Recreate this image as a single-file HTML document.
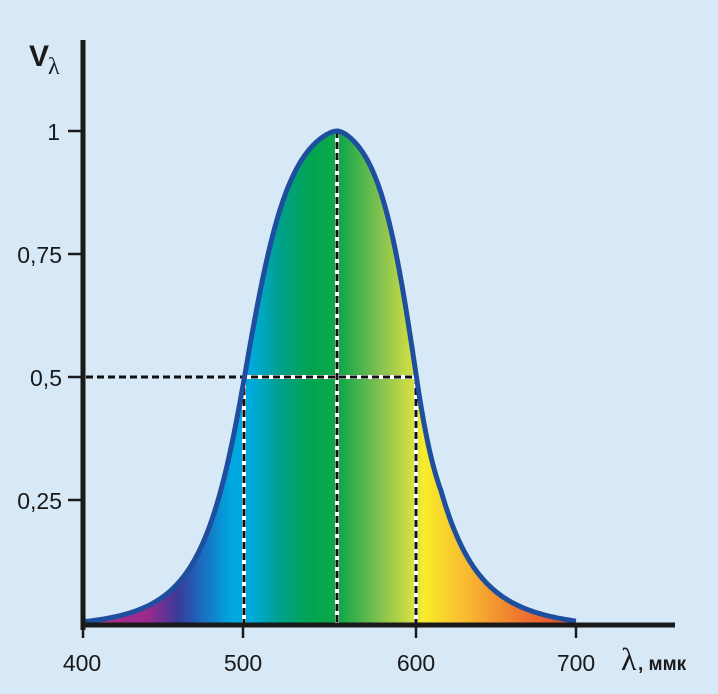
<!DOCTYPE html>
<html><head><meta charset="utf-8"><style>
html,body{margin:0;padding:0;background:#d7e8f7;}
svg{display:block}
text{font-family:"Liberation Sans",sans-serif;fill:#1a1a1a}
</style></head><body>
<svg id="s" width="718" height="694" viewBox="0 0 718 694">
<defs>
<linearGradient id="g" x1="84" x2="576" y1="0" y2="0" gradientUnits="userSpaceOnUse">
<stop offset="0" stop-color="#b0308a"/>
<stop offset="0.13" stop-color="#9a2a8e"/>
<stop offset="0.19" stop-color="#3a3a9a"/>
<stop offset="0.24" stop-color="#1a6cc0"/>
<stop offset="0.30" stop-color="#00a8e0"/>
<stop offset="0.34" stop-color="#00aadc"/>
<stop offset="0.40" stop-color="#00a08a"/>
<stop offset="0.46" stop-color="#00a550"/>
<stop offset="0.52" stop-color="#10a848"/>
<stop offset="0.60" stop-color="#80c050"/>
<stop offset="0.67" stop-color="#d8e040"/>
<stop offset="0.69" stop-color="#f8ec2a"/>
<stop offset="0.78" stop-color="#f8b830"/>
<stop offset="0.88" stop-color="#f07a30"/>
<stop offset="0.95" stop-color="#e85a30"/>
<stop offset="1" stop-color="#e85a30"/>
</linearGradient>
</defs>
<path id="fill" fill="url(#g)" stroke="none"/>
<g stroke-width="4" stroke="#fff">
<line x1="244" y1="377" x2="244" y2="623"/>
<line x1="337" y1="131" x2="337" y2="623"/>
<line x1="416" y1="377" x2="416" y2="623"/>
<line x1="244" y1="377" x2="416" y2="377"/>
</g>
<g stroke-width="3" stroke="#111" stroke-dasharray="7,4">
<line x1="244" y1="377" x2="244" y2="623"/>
<line x1="337" y1="131" x2="337" y2="623"/>
<line x1="416" y1="377" x2="416" y2="623"/>
<line x1="86" y1="377" x2="416" y2="377"/>
</g>
<path id="curve" fill="none" stroke="#1d4f9e" stroke-width="5"/>
<g stroke="#1a1a1a">
<line x1="83" y1="40" x2="83" y2="630" stroke-width="5"/>
<line x1="81" y1="625" x2="675" y2="625" stroke-width="5"/>
<line x1="68" y1="131" x2="83" y2="131" stroke-width="2.5"/>
<line x1="68" y1="254" x2="83" y2="254" stroke-width="2.5"/>
<line x1="68" y1="377" x2="83" y2="377" stroke-width="2.5"/>
<line x1="68" y1="500" x2="83" y2="500" stroke-width="2.5"/>
<line x1="243" y1="625" x2="243" y2="638" stroke-width="2.5"/>
<line x1="416" y1="625" x2="416" y2="638" stroke-width="2.5"/>
<line x1="576" y1="625" x2="576" y2="638" stroke-width="2.5"/>
<line x1="83" y1="625" x2="83" y2="638" stroke-width="2.5"/>
</g>
<g font-size="23" text-anchor="end">
<text x="60" y="140">1</text>
<text x="62" y="263">0,75</text>
<text x="62" y="386">0,5</text>
<text x="62" y="509">0,25</text>
</g>
<g font-size="23" text-anchor="middle">
<text x="82" y="671">400</text>
<text x="243" y="671">500</text>
<text x="416" y="671">600</text>
<text x="576" y="671">700</text>
</g>
<text x="621" y="670" font-size="32" style="font-family:'Liberation Serif',serif">λ</text>
<text x="638" y="670" font-size="19" font-weight="bold">, ммк</text>
<text x="29" y="66" font-size="30" font-weight="bold">V</text>
<text x="48" y="74" font-size="24" style="font-family:'Liberation Serif',serif">λ</text>
</svg>
<script>
function f(x){
 var d=x-337, s, p, r;
 if(d<0){s=93;r=-d/s;p=r<1?2+2.3*r:4.3;}
 else{s=80;r=d/s;p=r<1?2+2.3*r:(r<1.3?4.3-0.7*(r-1)/0.3:3.6);}
 return 1/(1+Math.pow(r,p));
}
var eL=f(84), eR=f(576);
var pts=[];
for(var x=84;x<=576;x+=1){
 var v=f(x), e=x<337?eL:eR;
 v=(v-e*0.8)/(1-e*0.8);
 pts.push(x+","+(623-492*v).toFixed(1));
}
var d="M"+pts.join(" L");
document.getElementById("curve").setAttribute("d",d);
document.getElementById("fill").setAttribute("d",d+" L576,623 L84,623 Z");
</script>
</body></html>
